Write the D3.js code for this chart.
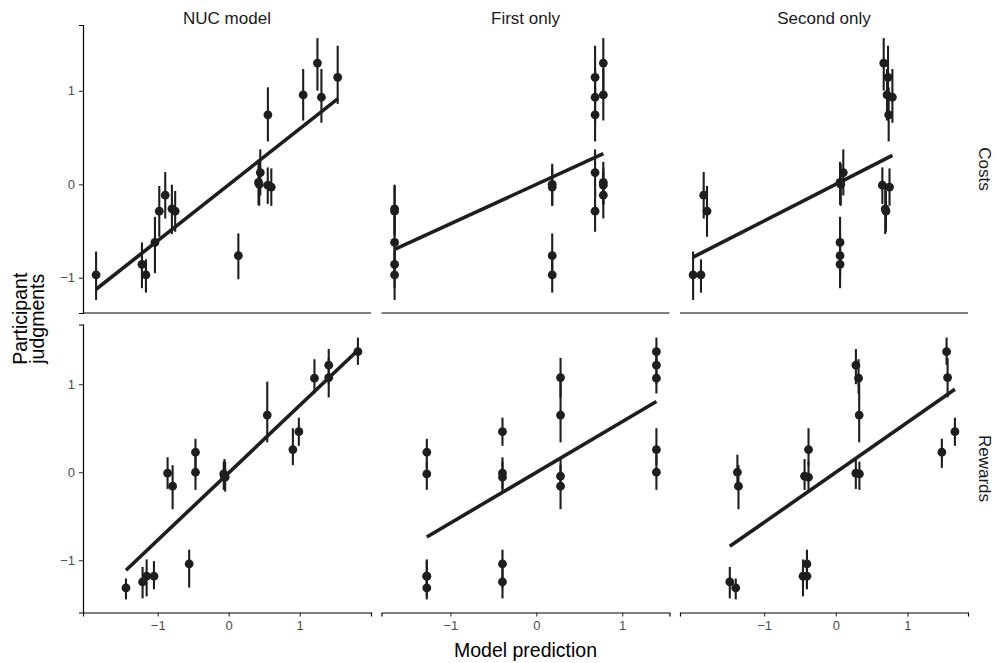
<!DOCTYPE html>
<html>
<head>
<meta charset="utf-8">
<script src="https://cdn.jsdelivr.net/npm/d3@7"></script>
<style>
  body { margin: 0; background: #fff; }
  text { font-family: "Liberation Sans", Arial, Helvetica, sans-serif; }
</style>
</head>
<body>
<svg id="chart"></svg>
<script>
// data

var columns = ['NUC model', 'First only', 'Second only'];
var rows = ['Costs', 'Rewards'];
var tickValues = [-1, 0, 1];

// costs: participant judgments (same items in every column)
var costsJudg = [1.297, 1.144, 0.956, 0.931, 0.743, 0.125, 0.02, 0.0, -0.01, -0.03,
                 -0.117, -0.263, -0.288, -0.288, -0.622, -0.764, -0.856, -0.970, -0.970];
var costsLo   = [1.002, 0.86, 0.682, 0.658, 0.458, -0.12, -0.22, -0.23, -0.21, -0.23,
                 -0.366, -0.533, -0.561, -0.508, -0.952, -1.016, -1.112, -1.237, -1.159];
var costsHi   = [1.564, 1.482, 1.233, 1.233, 1.037, 0.373, 0.24, 0.22, 0.18, 0.17,
                 0.131, -0.004, -0.018, -0.071, -0.348, -0.526, -0.622, -0.72, -0.803];
var costsNUC    = [1.25, 1.535, 1.049, 1.306, 0.552, 0.445, 0.42, 0.43, 0.55, 0.60,
                   -0.894, -0.80, -0.978, -0.754, -1.039, 0.136, -1.222, -1.868, -1.166];
var costsFirst  = [0.78, 0.684, 0.78, 0.684, 0.684, 0.684, 0.78, 0.185, 0.78, 0.185,
                   0.78, -1.65, -1.65, 0.684, -1.65, 0.185, -1.65, -1.65, 0.185];
var costsSecond = [0.669, 0.729, 0.715, 0.79, 0.738, 0.105, 0.06, 0.07, 0.65, 0.75,
                   -1.842, 0.69, -1.796, 0.70, 0.06, 0.06, 0.06, -1.99, -1.88];
// fitted lines: [x start, x end] and [y start, y end] per column
var costsFitX = [[-1.868, 1.535], [-1.65, 0.78], [-1.99, 0.79]];
var costsFitY = [[-1.123, 0.914], [-0.696, 0.327], [-0.78, 0.31]];

// rewards
var rewardsJudg = [1.37, 1.216, 1.076, 1.069, 0.65, 0.461, 0.257, 0.227, 0.0, -0.011,
                   -0.019, -0.045, -0.057, -0.159, -1.042, -1.181, -1.181, -1.246, -1.314];
var rewardsLo   = [1.22, 1.0, 0.85, 0.895, 0.34, 0.30, 0.08, 0.05, -0.2, -0.19,
                   -0.20, -0.20, -0.22, -0.42, -1.31, -1.41, -1.33, -1.434, -1.445];
var rewardsHi   = [1.53, 1.40, 1.30, 1.284, 1.03, 0.62, 0.50, 0.38, 0.2, 0.17,
                   0.12, 0.15, 0.12, 0.08, -0.88, -0.99, -1.01, -1.076, -1.207];
var rewardsNUC    = [1.82, 1.409, 1.409, 1.208, 0.543, 0.988, 0.904, -0.468, -0.468, -0.861,
                     -0.07, -0.06, -0.05, -0.79, -0.557, -1.156, -1.053, -1.213, -1.447];
var rewardsFirst  = [1.398, 1.398, 0.282, 1.398, 0.282, -0.394, 1.398, -1.275, 1.398, -0.394,
                     -1.275, 0.282, -0.394, 0.282, -0.394, -1.275, -1.275, -0.394, -1.275];
var rewardsSecond = [1.546, 0.281, 1.56, 0.318, 0.327, 1.662, -0.38, 1.48, -1.372, 0.28,
                     0.33, -0.435, -0.38, -1.357, -0.402, -0.457, -0.402, -1.478, -1.395];
var rewardsFitX = [[-1.447, 1.82], [-1.275, 1.398], [-1.478, 1.662]];
var rewardsFitY = [[-1.113, 1.386], [-0.736, 0.804], [-0.842, 0.944]];

// layout
var W = 996, H = 663;
var panelW = 288, panelH = 288;
var colX = [83, 381.5, 680];
var rowY = [25, 324.5];
var ink = '#1e1e1e';

var rowData = [
  { judg: costsJudg, lo: costsLo, hi: costsHi, xs: [costsNUC, costsFirst, costsSecond], fitX: costsFitX, fitY: costsFitY },
  { judg: rewardsJudg, lo: rewardsLo, hi: rewardsHi, xs: [rewardsNUC, rewardsFirst, rewardsSecond], fitX: rewardsFitX, fitY: rewardsFitY }
];

// ggplot-like 5% expansion
function expand(ext) {
  var pad = (ext[1] - ext[0]) * 0.05;
  return [ext[0] - pad, ext[1] + pad];
}

var xScales = columns.map(function(c, ci) {
  var all = rowData[0].xs[ci].concat(rowData[1].xs[ci]);
  return d3.scaleLinear().domain(expand(d3.extent(all))).range([colX[ci], colX[ci] + panelW]);
});
var yScales = rowData.map(function(r, ri) {
  return d3.scaleLinear()
    .domain(expand([d3.min(r.lo), d3.max(r.hi)]))
    .range([rowY[ri] + panelH, rowY[ri]]);
});

var fmt = function(d) { return d < 0 ? '\u2212' + Math.abs(d) : String(d); };

var svg = d3.select('#chart').attr('width', W).attr('height', H);

rowData.forEach(function(r, ri) {
  var y = yScales[ri];
  columns.forEach(function(c, ci) {
    var x = xScales[ci];
    var pts = r.judg.map(function(v, i) {
      return { x: r.xs[ci][i], y: v, lo: r.lo[i], hi: r.hi[i] };
    });
    var g = svg.append('g');

    // error bars
    g.selectAll('line.err')
      .data(pts)
      .enter()
      .append('line')
      .attr('x1', function(d) { return x(d.x); })
      .attr('x2', function(d) { return x(d.x); })
      .attr('y1', function(d) { return y(d.lo); })
      .attr('y2', function(d) { return y(d.hi); })
      .attr('stroke', ink)
      .attr('stroke-width', 2.1);

    // points
    g.selectAll('circle')
      .data(pts)
      .enter()
      .append('circle')
      .attr('cx', function(d) { return x(d.x); })
      .attr('cy', function(d) { return y(d.y); })
      .attr('r', 4.4)
      .attr('fill', ink);

    // fitted line
    g.append('line')
      .attr('x1', x(r.fitX[ci][0]))
      .attr('x2', x(r.fitX[ci][1]))
      .attr('y1', y(r.fitY[ci][0]))
      .attr('y2', y(r.fitY[ci][1]))
      .attr('stroke', ink)
      .attr('stroke-width', 3.6);

    // bottom axis line / axis
    if (ri === rowData.length - 1) {
      var xa = svg.append('g')
        .attr('transform', 'translate(0,' + (rowY[ri] + panelH) + ')')
        .call(d3.axisBottom(x).tickValues(tickValues).tickFormat(fmt).tickSizeOuter(0).tickSize(4).tickPadding(4));
      xa.select('.domain').attr('stroke', '#000').attr('stroke-width', 1.2);
      xa.selectAll('.tick line').attr('stroke', '#333').attr('stroke-width', 1.1);
      xa.selectAll('.tick text').attr('fill', '#4d4d4d').attr('font-size', 13)
        .attr('font-family', '"Liberation Sans", Arial, sans-serif');
    } else {
      svg.append('line')
        .attr('x1', colX[ci]).attr('x2', colX[ci] + panelW)
        .attr('y1', rowY[ri] + panelH).attr('y2', rowY[ri] + panelH)
        .attr('stroke', '#000').attr('stroke-width', 1.2);
    }

    // left axis only on first column
    if (ci === 0) {
      var ya = svg.append('g')
        .attr('transform', 'translate(' + colX[ci] + ',0)')
        .call(d3.axisLeft(y).tickValues(tickValues).tickFormat(fmt).tickSizeOuter(0).tickSize(4).tickPadding(4));
      ya.select('.domain').attr('stroke', '#000').attr('stroke-width', 1.2);
      ya.selectAll('.tick line').attr('stroke', '#333').attr('stroke-width', 1.1);
      ya.selectAll('.tick text').attr('fill', '#4d4d4d').attr('font-size', 13)
        .attr('font-family', '"Liberation Sans", Arial, sans-serif');
    }
  });
});

// column strips
svg.selectAll('text.colstrip')
  .data(columns)
  .enter()
  .append('text')
  .attr('x', function(d, i) { return colX[i] + panelW / 2; })
  .attr('y', 24)
  .attr('text-anchor', 'middle')
  .attr('font-size', 17)
  .attr('fill', '#1a1a1a')
  .text(function(d) { return d; });

// row strips
svg.selectAll('text.rowstrip')
  .data(rows)
  .enter()
  .append('text')
  .attr('transform', function(d, i) {
    return 'translate(' + 979 + ',' + (rowY[i] + panelH / 2) + ') rotate(90)';
  })
  .attr('text-anchor', 'middle')
  .attr('font-size', 17)
  .attr('fill', '#1a1a1a')
  .text(function(d) { return d; });

// axis titles
svg.append('text')
  .attr('x', (colX[0] + colX[2] + panelW) / 2)
  .attr('y', 657)
  .attr('text-anchor', 'middle')
  .attr('font-size', 19.5)
  .attr('fill', '#000')
  .text('Model prediction');

var yt = svg.append('text')
  .attr('transform', 'translate(27,' + ((rowY[0] + rowY[1] + panelH) / 2) + ') rotate(-90)')
  .attr('text-anchor', 'middle')
  .attr('font-size', 19.5)
  .attr('fill', '#000');
yt.append('tspan').attr('x', 0).attr('dy', 0).text('Participant');
yt.append('tspan').attr('x', 0).attr('dy', 17).text('judgments');
</script>
</body>
</html>
